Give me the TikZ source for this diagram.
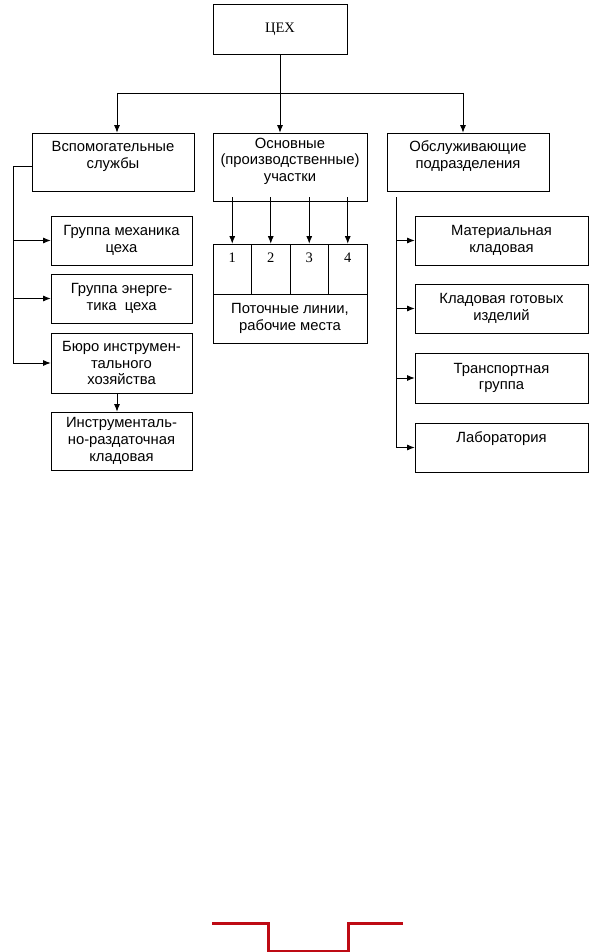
\documentclass[tikz,border=0pt]{standalone}
\usepackage{fontspec}
\setmainfont{Liberation Serif}
\setsansfont{Liberation Sans}
\usetikzlibrary{arrows.meta}
\definecolor{redline}{RGB}{190,10,20}
\begin{document}
\begin{tikzpicture}[x=1pt,y=-1pt,line width=0.8pt,
  box/.style={draw,rectangle,inner sep=0pt,align=center,font=\sffamily\fontsize{14.8}{16.7}\selectfont},
  num/.style={box,font=\rmfamily\fontsize{14.5}{16.7}\selectfont},
  arr/.style={-{Latex[length=7.5pt,width=6pt]}}]
\useasboundingbox (0,0) rectangle (596,952);
% top
\node[num,minimum width=134,minimum height=50] (ceh) at (280,29) {ЦЕХ};
\node[box,minimum width=162,minimum height=58] (vsp) at (113,162) {Вспомогательные\\службы\\[-7pt]\strut};
\node[box,minimum width=154,minimum height=68] (osn) at (290,167) {Основные\\(производственные)\\участки\\[-7pt]\strut};
\node[box,minimum width=162,minimum height=58] (obs) at (468,162) {Обслуживающие\\подразделения\\[-7pt]\strut};
\coordinate (busL) at (117,93);
\coordinate (busR) at (463,93);
\draw (busL) -- (busR);
\draw[arr] (ceh.south) -- (ceh.south |- osn.north);
\draw[arr] (busL) -- (busL |- vsp.north);
\draw[arr] (busR) -- (busR |- obs.north);
% left column
\node[box,minimum width=141,minimum height=49] (mech) at (121.5,240.5) {Группа механика\\цеха};
\node[box,minimum width=141,minimum height=49] (energ) at (121.5,298.5) {Группа энерге-\\тика\ \ цеха};
\node[box,minimum width=141,minimum height=60] (buro) at (121.5,363) {Бюро инструмен-\\тального\\хозяйства};
\node[box,minimum width=141,minimum height=58] (instr) at (121.5,441) {Инструменталь-\\но-раздаточная\\кладовая};
\coordinate (lbus) at (13,166);
\draw[arr] (vsp.west |- lbus) -- (lbus) |- (buro.west);
\draw[arr] (lbus |- mech.west) -- (mech.west);
\draw[arr] (lbus |- energ.west) -- (energ.west);
\draw[arr] (buro.south -| 117,0) -- (instr.north -| 117,0);
% middle
\foreach \i in {1,...,4}{
  \node[num,minimum width=38.5,minimum height=50] (c\i) at (193.75+38.5*\i,269) {\i\\\strut};
  \draw[arr] ([yshift=4]osn.south -| c\i.north) -- (c\i.north);
}
\node[box,minimum width=154,minimum height=49] (potok) at (290,318.5) {Поточные линии,\\рабочие места};
% right column
\node[box,minimum width=173,minimum height=49] (mat) at (501.5,240.5) {Материальная\\кладовая};
\node[box,minimum width=173,minimum height=49] (klad) at (501.5,308.5) {Кладовая готовых\\изделий};
\node[box,minimum width=173,minimum height=50] (trans) at (501.5,378) {Транспортная\\группа};
\node[box,minimum width=173,minimum height=49] (lab) at (501.5,447.5) {Лаборатория\\\strut};
\coordinate (rbus) at (396,197);
\draw[arr] (rbus) |- (lab.west);
\draw[arr] (rbus |- mat.west) -- (mat.west);
\draw[arr] (rbus |- klad.west) -- (klad.west);
\draw[arr] (rbus |- trans.west) -- (trans.west);
% red line
\draw[redline,line width=3pt] (212,923) -- (268,923) -- (268,951) -- (348,951) -- (348,923) -- (403,923);
\end{tikzpicture}
\end{document}
